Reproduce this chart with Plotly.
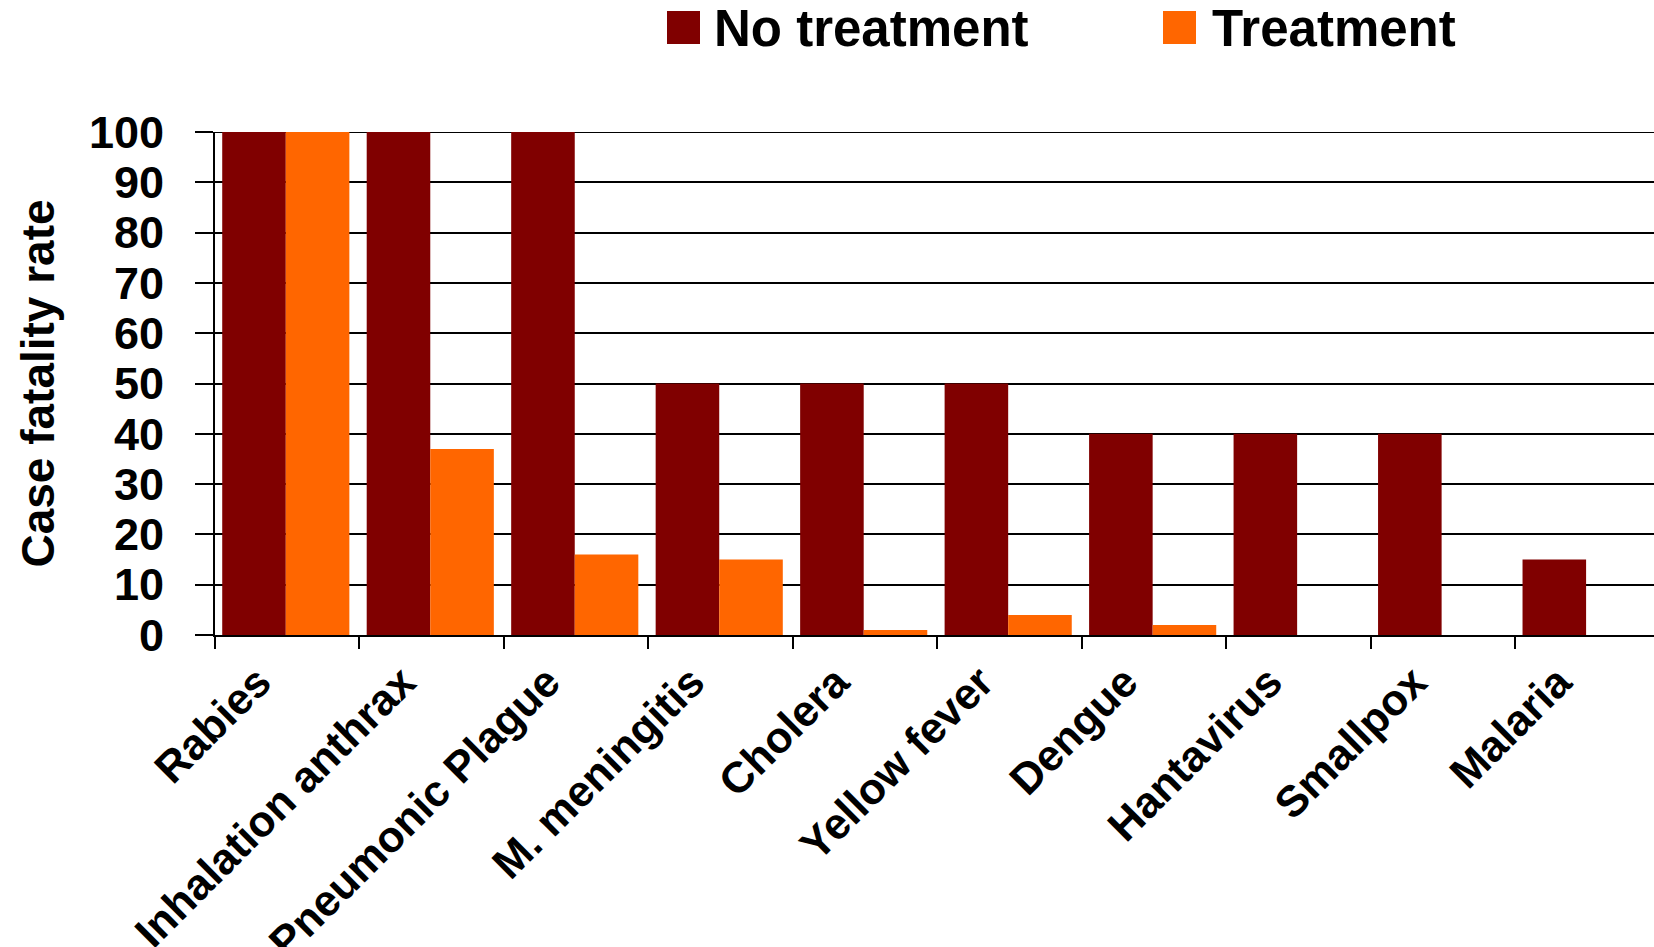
import plotly.graph_objects as go

categories = ["Rabies", "Inhalation anthrax", "Pneumonic Plague", "M. meningitis",
              "Cholera", "Yellow fever", "Dengue", "Hantavirus", "Smallpox", "Malaria"]
no_treatment = [100, 100, 100, 50, 50, 50, 40, 40, 40, 15]
treatment = [100, 37, 16, 15, 1, 4, 2, 0, 0, 0]
series_names = ["No treatment", "Treatment"]
colors = ["#800000", "#FF6600"]
y_ticks = list(range(0, 101, 10))
y_title = "Case fatality rate"

W, H = 1654, 947
L, R, T, B = 215, 0, 132, 312
pw, ph = W - L - R, H - T - B

def px_x(p):
    return (p - L) / pw

def px_y(p):
    return (H - B - p) / ph

FONT = "Arial, Liberation Sans, sans-serif"

fig = go.Figure()
fig.add_trace(go.Bar(x=categories, y=no_treatment, name=series_names[0],
                     marker=dict(color=colors[0], line=dict(width=0)),
                     width=0.44, offset=-0.45, showlegend=False))
fig.add_trace(go.Bar(x=categories, y=treatment, name=series_names[1],
                     marker=dict(color=colors[1], line=dict(width=0)),
                     width=0.44, offset=-0.01, showlegend=False))

# top gridline (plotly drops gridlines at the exact range edge)
fig.add_shape(type="line", xref="x domain", yref="y", x0=0, x1=1,
              y0=y_ticks[-1], y1=y_ticks[-1], line=dict(color="black", width=2),
              layer="below")

# manual legend (large square swatches)
leg = [(667, 712), (1163, 1210)]
for (sx, tx), name, c in zip(leg, series_names, colors):
    fig.add_shape(type="rect", xref="paper", yref="paper",
                  x0=px_x(sx), x1=px_x(sx + 33), y0=px_y(44), y1=px_y(11),
                  fillcolor=c, line=dict(width=0))
    fig.add_annotation(xref="paper", yref="paper", x=px_x(tx), y=px_y(28),
                       text="<b>%s</b>" % name, showarrow=False,
                       xanchor="left", yanchor="middle",
                       font=dict(family=FONT, size=51, color="black"))

fig.update_layout(
    width=W, height=H,
    margin=dict(l=L, r=R, t=T, b=B, pad=0),
    paper_bgcolor="white", plot_bgcolor="white",
    barmode="group",
    font=dict(family=FONT, color="black"),
    xaxis=dict(
        type="category", range=[-0.5, 9.46], automargin=False,
        showline=True, linecolor="black", linewidth=2,
        ticks="outside", tickson="boundaries", ticklen=12, tickwidth=2, tickcolor="black",
        tickangle=-45, showgrid=False,
        ticklabelshift=-29, ticklabelstandoff=2,
        tickfont=dict(family=FONT, size=43.5, color="black", weight="bold"),
    ),
    yaxis=dict(
        range=[0, 100], tickvals=y_ticks, ticktext=[str(v) for v in y_ticks],
        automargin=False,
        showline=True, linecolor="black", linewidth=2,
        ticks="outside", ticklen=18, tickwidth=2, tickcolor="black",
        showgrid=True, gridcolor="black", gridwidth=2, zeroline=False,
        ticklabelstandoff=22,
        tickfont=dict(family=FONT, size=45, color="black", weight="bold"),
        title=dict(text="<b>%s</b>" % y_title, standoff=20,
                   font=dict(family=FONT, size=46, color="black")),
    ),
)

fig.write_html("out.html")
